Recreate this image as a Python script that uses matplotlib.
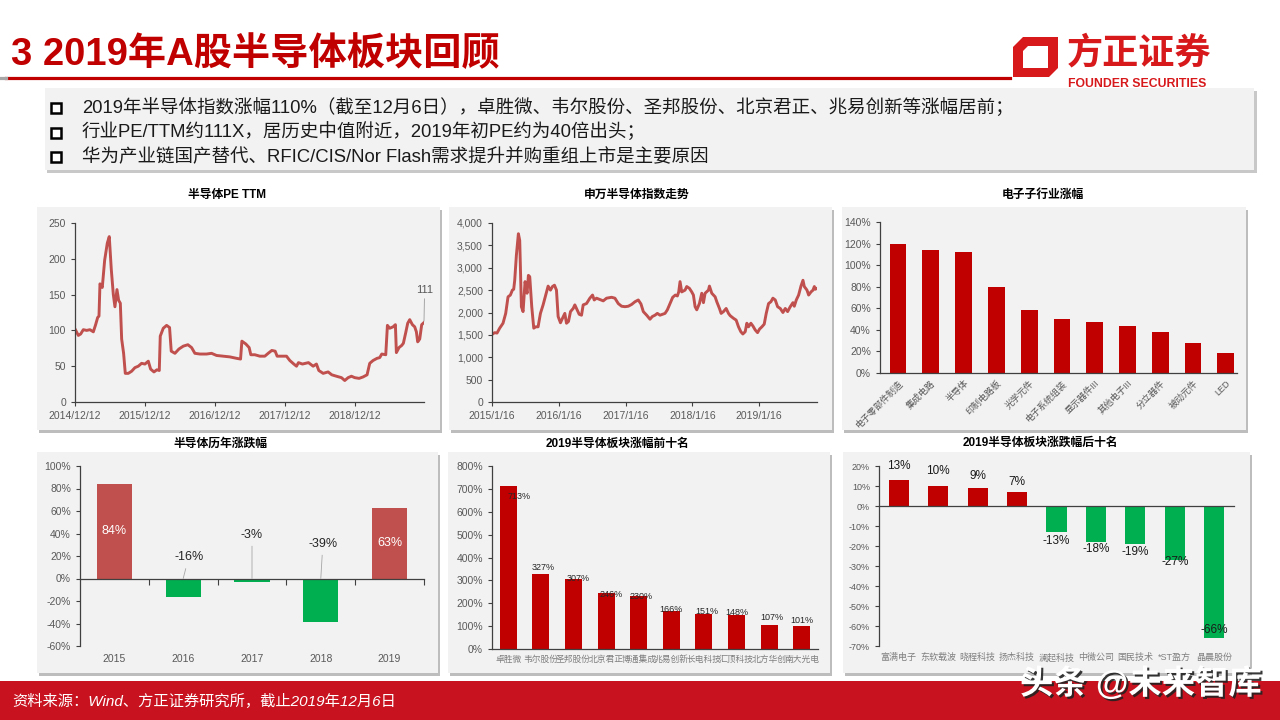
import matplotlib
matplotlib.use('Agg')
import matplotlib.pyplot as plt
import matplotlib.patheffects as pe
from matplotlib.patches import Rectangle, Polygon
from matplotlib.transforms import Affine2D

plt.rcParams['font.family'] = ['Liberation Sans', 'Noto Sans CJK SC', 'DejaVu Sans']
plt.rcParams['axes.unicode_minus'] = False

W, H = 1280, 720

# ---- data ----
# PE TTM, x = years after 2014/12/12
pe_t = [0.00, 0.048, 0.081, 0.119, 0.167, 0.214, 0.262, 0.295, 0.324, 0.343,
        0.357, 0.390, 0.424, 0.462, 0.490, 0.519, 0.548, 0.571, 0.600, 0.624,
        0.648, 0.667, 0.695, 0.719, 0.762, 0.810, 0.857, 0.905, 0.952, 1.000,
        1.048, 1.081, 1.129, 1.171, 1.205, 1.219, 1.262, 1.310, 1.352, 1.376,
        1.429, 1.486, 1.548, 1.614, 1.667, 1.714, 1.786, 1.881, 1.952, 2.024,
        2.119, 2.214, 2.310, 2.367, 2.386, 2.443, 2.490, 2.514, 2.571, 2.643,
        2.714, 2.762, 2.814, 2.862, 2.890, 2.938, 3.024, 3.071, 3.129, 3.167,
        3.195, 3.252, 3.338, 3.405, 3.452, 3.486, 3.548, 3.619, 3.671, 3.738,
        3.810, 3.857, 3.905, 3.952, 4.000, 4.062, 4.119, 4.176, 4.214, 4.262,
        4.319, 4.357, 4.386, 4.443, 4.467, 4.500, 4.548, 4.581, 4.595, 4.633,
        4.671, 4.695, 4.729, 4.757, 4.786, 4.824, 4.857, 4.881, 4.900, 4.929,
        4.957, 4.990]
pe_v = [102, 93, 95, 101, 100, 101, 98, 108, 118, 120,
        165, 160, 198, 222, 231, 185, 150, 133, 157, 142,
        138, 88, 68, 40, 40, 43, 48, 50, 54, 53,
        57, 46, 42, 45, 44, 92, 103, 107, 104, 71,
        68, 74, 78, 80, 76, 68, 67, 67, 68, 65,
        64, 63, 61, 60, 85, 81, 76, 66, 66, 64,
        64, 68, 72, 71, 64, 64, 64, 58, 53, 50,
        55, 53, 55, 50, 53, 44, 40, 42, 38, 36,
        34, 30, 34, 36, 34, 33, 35, 38, 54, 58,
        61, 62, 67, 66, 107, 103, 105, 108, 69, 76,
        79, 82, 97, 110, 115, 108, 105, 98, 84, 88,
        108, 111]
pe_ticklabels = ['2014/12/12', '2015/12/12', '2016/12/12', '2017/12/12', '2018/12/12']

# SW semiconductor index, x = years after 2015/1/16
idx_t = [0.000, 0.040, 0.075, 0.115, 0.165, 0.205, 0.240, 0.275, 0.305, 0.325,
         0.340, 0.365, 0.395, 0.415, 0.440, 0.465, 0.495, 0.525, 0.545, 0.565,
         0.595, 0.625, 0.655, 0.690, 0.725, 0.765, 0.805, 0.840, 0.875, 0.905,
         0.935, 0.965, 0.990, 1.025, 1.055, 1.090, 1.115, 1.145, 1.175, 1.215,
         1.240, 1.265, 1.305, 1.340, 1.365, 1.415, 1.465, 1.505, 1.530, 1.565,
         1.615, 1.665, 1.715, 1.790, 1.840, 1.890, 1.940, 1.990, 2.040, 2.090,
         2.140, 2.190, 2.230, 2.265, 2.315, 2.365, 2.400, 2.440, 2.475, 2.515,
         2.555, 2.590, 2.625, 2.665, 2.705, 2.745, 2.775, 2.795, 2.815, 2.840,
         2.890, 2.915, 2.955, 2.990, 3.015, 3.040, 3.065, 3.105, 3.140, 3.165,
         3.190, 3.240, 3.255, 3.290, 3.340, 3.365, 3.405, 3.430, 3.465, 3.505,
         3.540, 3.565, 3.615, 3.655, 3.690, 3.725, 3.755, 3.790, 3.815, 3.840,
         3.875, 3.905, 3.940, 3.975, 4.005, 4.040, 4.075, 4.105, 4.140, 4.175,
         4.205, 4.240, 4.275, 4.315, 4.355, 4.390, 4.425, 4.465, 4.505, 4.525,
         4.555, 4.590, 4.625, 4.655, 4.675, 4.715, 4.740, 4.775, 4.805, 4.825,
         4.840, 4.865]
idx_v = [1510, 1550, 1540, 1650, 1760, 1980, 2350, 2390, 2500, 2520,
         2720, 3280, 3760, 3610, 2130, 2020, 2690, 2430, 2830, 2800,
         2130, 1650, 1680, 1680, 1980, 2170, 2390, 2590, 2500, 2580,
         2610, 2500, 1910, 1770, 1870, 1980, 1760, 1800, 2020, 2090,
         2170, 2090, 1960, 1940, 2170, 2200, 2320, 2390, 2280, 2320,
         2290, 2260, 2320, 2340, 2320, 2200, 2140, 2130, 2140, 2180,
         2240, 2280, 2190, 2020, 1940, 1850, 1910, 1940, 1980, 1940,
         1960, 1980, 2060, 2200, 2340, 2390, 2370, 2460, 2690, 2460,
         2500, 2580, 2540, 2460, 2390, 2130, 2060, 2200, 2430, 2220,
         2430, 2500, 2590, 2430, 2350, 2240, 2090, 1980, 2020, 2090,
         1980, 1930, 1870, 1830, 1680, 1570, 1520, 1570, 1760, 1680,
         1760, 1700, 1610, 1550, 1630, 1680, 1740, 1980, 2200, 2240,
         2320, 2280, 2130, 2090, 2000, 2090, 2020, 2130, 2220, 2140,
         2280, 2390, 2590, 2720, 2580, 2500, 2390, 2460, 2500, 2580,
         2520, 2540]
idx_ticklabels = ['2015/1/16', '2016/1/16', '2017/1/16', '2018/1/16', '2019/1/16']

sub_names = ['电子零部件制造', '集成电路', '半导体', '印制电路板', '光学元件', '电子系统组装',
             '显示器件III', '其他电子III', '分立器件', '被动元件', 'LED']
sub_gain = [120, 114, 112, 80, 58, 50, 47, 44, 38, 28, 19]

years = ['2015', '2016', '2017', '2018', '2019']
year_chg = [84, -16, -3, -39, 63]

top_names = ['卓胜微', '韦尔股份', '圣邦股份', '北京君正', '博通集成',
             '兆易创新', '长电科技', '汇顶科技', '北方华创', '南大光电']
top_gain = [713, 327, 307, 246, 230, 166, 151, 148, 107, 101]

bot_names = ['富满电子', '东软载波', '晓程科技', '扬杰科技', '澜起科技',
             '中微公司', '国民技术', '*ST盈方', '晶晨股份']
bot_chg = [13, 10, 9, 7, -13, -18, -19, -27, -66]

bullets = ['2019年半导体指数涨幅110%（截至12月6日），卓胜微、韦尔股份、圣邦股份、北京君正、兆易创新等涨幅居前；',
           '行业PE/TTM约111X，居历史中值附近，2019年初PE约为40倍出头；',
           '华为产业链国产替代、RFIC/CIS/Nor Flash需求提升并购重组上市是主要原因']

RED = '#C00000'
MRED = '#C0504D'
GREEN = '#00B050'
GREY = '#595959'

fig = plt.figure(figsize=(12.8, 7.2), dpi=100)
px = Affine2D().scale(1 / W, -1 / H).translate(0, 1) + fig.transFigure


def rect(x0, y0, x1, y1, **kw):
    fig.add_artist(Rectangle((x0, y0), x1 - x0, y1 - y0, transform=px, **kw))


def panel(x0, y0, x1, y1):
    rect(x0 + 2, y0 + 3, x1 + 2, y1 + 3, color='#BDBDBD', zorder=-6, lw=0)
    rect(x0, y0, x1, y1, color='#F2F2F2', zorder=-5, lw=0)


def add_ax(x0, y0, x1, y1):
    ax = fig.add_axes([x0 / W, 1 - y1 / H, (x1 - x0) / W, (y1 - y0) / H])
    ax.set_facecolor('none')
    for s in ['top', 'right']:
        ax.spines[s].set_visible(False)
    for s in ['left', 'bottom']:
        ax.spines[s].set_color('#404040')
        ax.spines[s].set_linewidth(0.9)
    ax.tick_params(colors='#404040', labelcolor=GREY, labelsize=7.5, length=3, width=0.8)
    return ax


def ftext(x, y, s, **kw):
    return fig.text(x / W, 1 - y / H, s, **kw)


# ---- header ----
ftext(11, 55, '3 2019年A股半导体板块回顾', fontsize=27.5, weight='bold', color=RED, va='center')
fig.add_artist(plt.Line2D([6, 1010], [78, 78], transform=px, color=RED, lw=2.3))
fig.add_artist(plt.Line2D([0, 6], [78, 78], transform=px, color='#A6A6A6', lw=2.3))

# logo
fig.add_artist(Polygon([(1023, 37), (1058, 37), (1058, 68), (1049, 77), (1013, 77), (1013, 47)],
                       closed=True, transform=px, color='#D7191C', lw=0))
fig.add_artist(Polygon([(1028, 46), (1048, 46), (1048, 68), (1023, 68), (1023, 51)],
                       closed=True, transform=px, color='white', lw=0))
ftext(1067, 54, '方正证券', fontsize=26, weight='bold', color='#D7191C', va='center')
ftext(1068, 84, 'FOUNDER SECURITIES', fontsize=8.8, weight='bold', color='#D7191C', va='center')

# bullet box
rect(47, 91, 1257, 173, color='#C8C8C8', zorder=-6, lw=0)
rect(45, 88, 1254, 170, color='#F2F2F2', zorder=-5, lw=0)
for i, line in enumerate(bullets):
    y = 108 + i * 24.5
    rect(51, y - 5, 61, y + 5, facecolor='white', edgecolor='black', lw=1.8, zorder=2)
    ftext(82, y, line, fontsize=13.3, color='#1A1A1A', va='center')

# ---- panels ----
for box in [(37, 207, 440, 430), (449, 207, 832, 430), (842, 207, 1246, 430),
            (37, 452, 438, 673), (448, 452, 830, 673), (843, 452, 1250, 673)]:
    panel(*box)

title_kw = dict(fontsize=8.5, color='black', ha='center', va='center', weight='bold')
ftext(227, 195, '半导体PE TTM', **title_kw)
ftext(637, 195, '申万半导体指数走势', **title_kw)
ftext(1043, 195, '电子子行业涨幅', **title_kw)
ftext(220, 444, '半导体历年涨跌幅', **title_kw)
ftext(617, 444, '2019半导体板块涨幅前十名', **title_kw)
ftext(1040, 443, '2019半导体板块涨跌幅后十名', **title_kw)

# 1. PE TTM
ax1 = add_ax(75, 223, 424, 402)
ax1.plot(pe_t, pe_v, color=MRED, lw=2.1)
ax1.set_xlim(0, 4.99)
ax1.set_ylim(0, 250)
ax1.set_yticks(range(0, 251, 50))
ax1.set_xticks(range(len(pe_ticklabels)))
ax1.set_xticklabels(pe_ticklabels)
ax1.annotate(str(pe_v[-1]), xy=(pe_t[-1], pe_v[-1] + 2), xytext=(pe_t[-1] + 0.01, 150),
             ha='center', va='bottom', fontsize=8, color=GREY,
             arrowprops=dict(arrowstyle='-', color='#A6A6A6', lw=0.7, shrinkA=1, shrinkB=0))

# 2. index
ax2 = add_ax(492, 223, 817, 402)
ax2.plot(idx_t, idx_v, color=MRED, lw=2.1)
ax2.set_xlim(0, 4.865)
ax2.set_ylim(0, 4000)
ax2.set_yticks(range(0, 4001, 500))
ax2.set_yticklabels([f'{v:,}' for v in range(0, 4001, 500)])
ax2.set_xticks(range(len(idx_ticklabels)))
ax2.set_xticklabels(idx_ticklabels)

# 3. sub-industries
ax3 = add_ax(880, 222, 1237, 373)
ax3.bar(range(len(sub_gain)), [v / 100 for v in sub_gain], width=0.51, color=RED)
ax3.set_xlim(-0.55, 10.34)
ax3.set_ylim(0, 1.4)
ax3.set_yticks([i / 10 for i in range(0, 15, 2)])
ax3.set_yticklabels([f'{i * 10}%' for i in range(0, 15, 2)])
ax3.set_xticks(range(len(sub_names)))
ax3.set_xticklabels(sub_names, rotation=45, ha='right', rotation_mode='anchor', fontsize=6.5)
ax3.tick_params(axis='x', length=0, pad=4)

# 4. yearly change
ax4 = add_ax(80, 466, 424, 646)
cols4 = [MRED if v > 0 else GREEN for v in year_chg]
ax4.bar(range(len(year_chg)), year_chg, width=0.51, color=cols4)
ax4.set_xlim(-0.5, 4.5)
ax4.set_ylim(-60, 100)
ax4.set_yticks(range(-60, 101, 20))
ax4.set_yticklabels([f'{v}%' for v in range(-60, 101, 20)])
ax4.spines['bottom'].set_position(('data', 0))
ax4.set_xticks([i + 0.5 for i in range(len(years))])
ax4.set_xticklabels([])
ax4.tick_params(axis='x', direction='out', length=4)
for i, y in enumerate(years):
    ax4.text(i, -0.075, y, transform=ax4.get_xaxis_transform(), ha='center', va='center',
             fontsize=7.5, color=GREY)
neg_pos = {1: (0.08, 19), 2: (0.0, 39), 3: (0.03, 31)}
for i, v in enumerate(year_chg):
    if v > 0:
        ax4.text(i, v / 2, f'{v}%', ha='center', va='center', color='white', fontsize=9)
    else:
        dx, ly = neg_pos[i]
        ax4.annotate(f'{v}%', xy=(i, 0), xytext=(i + dx, ly), ha='center', va='center',
                     fontsize=9, color='#262626',
                     arrowprops=dict(arrowstyle='-', color='#A6A6A6', lw=0.6, shrinkA=2, shrinkB=0))

# 5. top ten
ax5 = add_ax(492, 466, 818, 649)
ax5.bar(range(len(top_gain)), top_gain, width=0.52, color=RED)
ax5.set_xlim(-0.5, 9.5)
ax5.set_ylim(0, 800)
ax5.set_yticks(range(0, 801, 100))
ax5.set_yticklabels([f'{v}%' for v in range(0, 801, 100)])
ax5.set_xticks([])
for i, n in enumerate(top_names):
    ax5.text(i, -0.055, n, transform=ax5.get_xaxis_transform(), ha='center', va='center',
             fontsize=6.3, color='#7F7F7F')
top_off = [(11, -11), (2, 7), (5, 0), (5, -2), (2, 0), (0, 2), (3, 3), (0, 3), (3, 7), (0, 5)]
for i, v in enumerate(top_gain):
    dx, dy = top_off[i]
    ax5.annotate(f'{v}%', xy=(i, v), xytext=(dx * 0.72, dy * 0.72), textcoords='offset points',
                 ha='center', va='center', fontsize=6.5, color='#262626')

# 6. bottom ten
ax6 = add_ax(879, 466, 1234, 646)
cols6 = [RED if v > 0 else GREEN for v in bot_chg]
ax6.bar(range(len(bot_chg)), bot_chg, width=0.51, color=cols6)
ax6.set_xlim(-0.5, 8.5)
ax6.set_ylim(-70, 20)
ax6.set_yticks(range(-70, 21, 10))
ax6.set_yticklabels([f'{v}%' for v in range(-70, 21, 10)])
ax6.tick_params(axis='y', labelsize=6.5)
ax6.spines['bottom'].set_position(('data', 0))
ax6.set_xticks([])
for i, n in enumerate(bot_names):
    ax6.text(i, -0.065, n, transform=ax6.get_xaxis_transform(), ha='center', va='center',
             fontsize=6.5, color='#7F7F7F')
bot_off = [14, 15, 12, 10, -9, -7, -8, -2, 8]
for i, v in enumerate(bot_chg):
    ax6.annotate(f'{v}%', xy=(i, v), xytext=(0, bot_off[i] * 0.72), textcoords='offset points',
                 ha='center', va='center', fontsize=8.5, color='#1A1A1A')

# ---- footer ----
rect(0, 681, W, H, color='#C8121F', zorder=-6, lw=0)
ftext(12, 701, '资料来源：Wind、方正证券研究所，截止2019年12月6日', fontsize=11,
      style='italic', color='white', va='center')
ftext(1020, 684, '头条 @未来智库', fontsize=24, color='white', va='center', weight='bold',
      path_effects=[pe.SimplePatchShadow(offset=(1.5, -1.5), shadow_rgbFace='#222222', alpha=0.9),
                    pe.Normal()])

fig.savefig('out.png', dpi=100)
